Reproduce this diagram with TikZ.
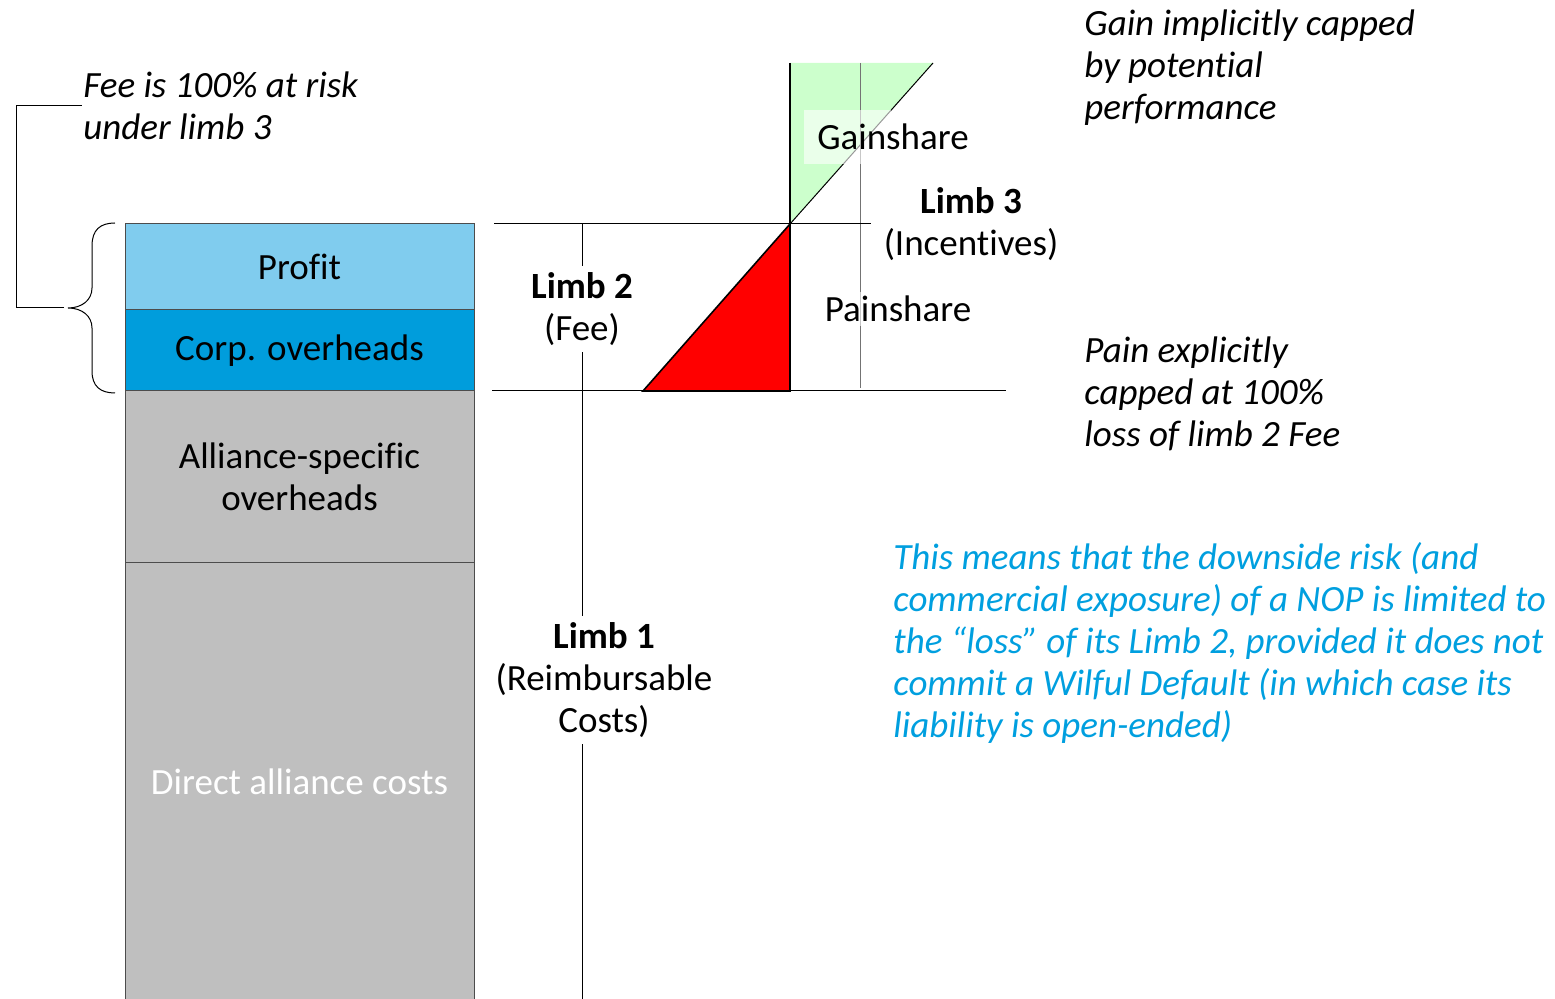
\documentclass[tikz,border=0pt]{standalone}
\usepackage{fontspec}
\setmainfont[RawFeature={-liga;-clig;-dlig}]{Carlito}
\usetikzlibrary{positioning}
\definecolor{profitblue}{HTML}{80CCEE}
\definecolor{corpblue}{HTML}{009DDC}
\definecolor{costgrey}{HTML}{BFBFBF}
\definecolor{gaingreen}{HTML}{CCFFCC}
\definecolor{noteblue}{HTML}{009FDF}
\begin{document}
\begin{tikzpicture}[x=0.5pt,y=-0.5pt]
\tikzstyle{txt}=[font=\fontsize{18.5}{21}\selectfont, inner sep=0pt]
\tikzstyle{layer}=[rectangle, txt, minimum width=174.5pt, draw=black!70, line width=0.5pt]
\tikzstyle{limb}=[txt, align=center, fill=white, inner sep=3pt]
\tikzstyle{note}=[txt, align=left, anchor=base west, font=\fontsize{18.5}{21}\selectfont\itshape]
\tikzstyle{thinline}=[line width=0.5pt]
\useasboundingbox (0,0) rectangle (1555,999);
	% cost stack
	\node[layer, fill=profitblue, minimum height=43pt] (profit) at (299.5,267) {Profit};
	\node[layer, fill=corpblue, minimum height=40.5pt] (corp) at (299.5,350.5) {Corp. overheads};
	\node[layer, fill=costgrey, minimum height=86pt, align=center] (alliance) at (299.5,477) {Alliance-specific\\overheads};
	\node[layer, fill=costgrey, minimum height=219pt, text=white] (direct) at (299.5,782) {Direct alliance costs};

	% gain and pain triangles
	\coordinate (apex) at (790,224);
	\coordinate (gtop) at (790,63);
	\coordinate (gtip) at (933,63);
	\coordinate (rbase) at (643,391);
	\coordinate (rcorner) at (790,391);
	\fill[gaingreen] (gtop) -- (gtip) -- (apex) -- cycle;
	\draw[thinline] (apex) -- (gtip);
	\draw[black!55, thinline] (860,63) coordinate (split top) -- (860,388) coordinate (split bottom);
	\fill[white, opacity=0.6] (804,110) rectangle (891,164);
	\draw[fill=red, line width=0.8pt] (rbase) -- (rcorner) -- (apex) -- cycle;
	\draw[line width=1pt] (gtop) -- (rcorner);

	% limb levels
	\coordinate (top left) at (494,224);
	\coordinate (top right) at (871,224);
	\coordinate (base left) at (492,391);
	\coordinate (base right) at (1006,391);
	\coordinate (limb top) at (582,224);
	\coordinate (limb bottom) at (582,999);
	\draw[thinline] (top left) -- (top right);
	\draw[thinline] (base left) -- (base right);
	\draw[thinline] (limb top) -- (limb bottom);

	\node[limb] (limb2) at (582,309) {\textbf{Limb 2}\\(Fee)};
	\node[limb] (limb1) at (604,680) {\textbf{Limb 1}\\(Reimbursable\\Costs)};
	\node[txt, align=center] (limb3) at (971,224) {\textbf{Limb 3}\\(Incentives)};
	\node[txt] (gain) at (893,137) {Gainshare};
	\node[txt, fill=white, fill opacity=0.6, text opacity=1, inner sep=2pt] (pain) at (898,309) {Painshare};

	% brace over limb 2
	\coordinate (brace tip) at (68,308);
	\draw[thinline] (115,223) .. controls (100,223) and (92,230) .. (92,246) -- (92,288)
		.. controls (92,300) and (82,308) .. (brace tip)
		.. controls (82,308) and (92,316) .. (92,328) -- (92,371)
		.. controls (92,386) and (100,393) .. (115,393);
	\coordinate (elbow start) at (64,308);
	\coordinate (elbow end) at (82,106);
	\draw[thinline] (elbow start) -- (16,308) -- (16,106) -- (elbow end);

	% notes (anchored at the last line)
	\node[note] (fee note) at (83,140) {Fee is 100\% at risk\\under limb 3};
	\node[note] (gain note) at (1084,120) {Gain implicitly capped\\by potential\\performance};
	\node[note] (pain note) at (1084,447) {Pain explicitly\\capped at 100\%\\loss of limb 2 Fee};
	\node[note, text=noteblue] (risk note) at (893,738) {This means that the downside risk (and\\commercial exposure) of a NOP is limited to\\the “loss” of its Limb 2, provided it does not\\commit a Wilful Default (in which case its\\liability is open-ended)};
\end{tikzpicture}
\end{document}
